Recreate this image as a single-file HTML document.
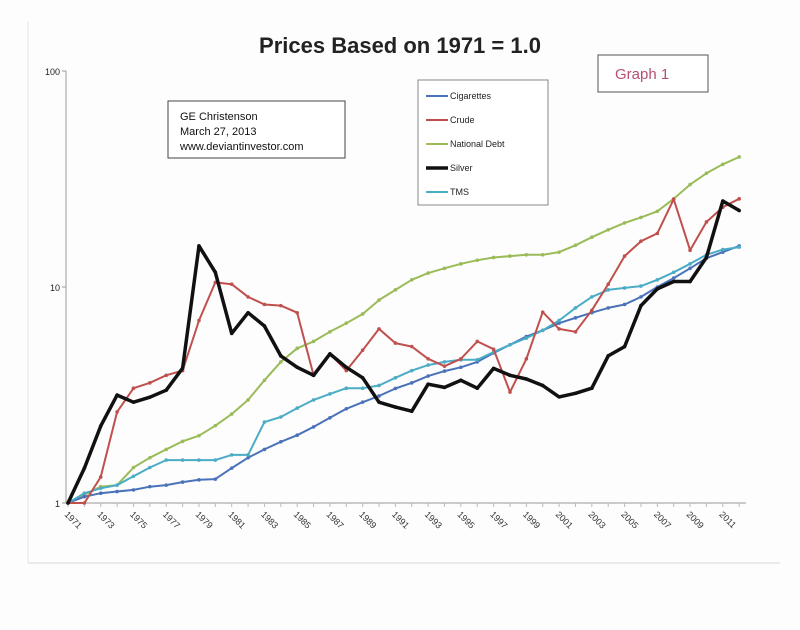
<!DOCTYPE html>
<html><head><meta charset="utf-8"><style>
body{margin:0;background:#fff;}
svg{display:block;font-family:"Liberation Sans",sans-serif;}
</style></head><body>
<svg id="chart" width="800" height="630">
<rect x="0" y="0" width="800" height="630" fill="#fdfdfd"/>
<line x1="28" y1="22" x2="28" y2="562" stroke="#e4e4e4"/>
<line x1="28" y1="563" x2="780" y2="563" stroke="#d8d8d8"/>
<text x="400" y="53" text-anchor="middle" font-size="22" font-weight="bold" fill="#222">Prices Based on 1971 = 1.0</text>
<g>
<rect x="168" y="101" width="177" height="57" fill="#fff" stroke="#444"/>
<text x="180" y="120" font-size="11" fill="#111">GE Christenson</text>
<text x="180" y="135" font-size="11" fill="#111">March 27, 2013</text>
<text x="180" y="150" font-size="11" fill="#111">www.deviantinvestor.com</text>
</g>
<g>
<rect x="598" y="55" width="110" height="37" fill="#fff" stroke="#555"/>
<text x="615" y="79" font-size="15" fill="#b85070">Graph 1</text>
</g>
<g id="axes"></g>
<g id="series"></g>
<g id="legend">
<rect x="418" y="80" width="130" height="125" fill="#fff" stroke="#888"/>
</g>
</svg>
<script>
const years = [];
for (let y = 1971; y <= 2012; y++) years.push(y);
const yTicks = [1, 10, 100];
const xTickLabels = [1971,1973,1975,1977,1979,1981,1983,1985,1987,1989,1991,1993,1995,1997,1999,2001,2003,2005,2007,2009,2011];
const seriesNames = ["Cigarettes","Crude","National Debt","Silver","TMS"];
const cigarettes = [1,1.07,1.11,1.13,1.15,1.19,1.21,1.25,1.28,1.29,1.45,1.62,1.77,1.92,2.06,2.25,2.48,2.73,2.93,3.13,3.39,3.6,3.87,4.08,4.25,4.5,4.95,5.4,5.9,6.3,6.8,7.2,7.6,8.0,8.3,9.0,10.0,11.0,12.2,13.6,14.5,15.5];
const crude = [1,1,1.32,2.64,3.4,3.6,3.9,4.1,7.0,10.5,10.3,9.0,8.3,8.2,7.6,3.9,4.9,4.1,5.1,6.4,5.5,5.3,4.65,4.3,4.65,5.6,5.15,3.26,4.65,7.65,6.4,6.2,7.8,10.3,13.9,16.3,17.7,25.5,14.8,20,23.4,25.6];
const nationalDebt = [1,1.09,1.19,1.21,1.46,1.62,1.77,1.93,2.05,2.28,2.58,3.0,3.7,4.5,5.2,5.6,6.2,6.8,7.5,8.7,9.7,10.8,11.6,12.2,12.8,13.3,13.7,13.9,14.1,14.1,14.5,15.6,17.0,18.4,19.8,21.0,22.4,25.6,29.8,33.6,37.0,40];
const silver = [1,1.45,2.27,3.16,2.93,3.09,3.33,4.21,15.5,11.7,6.1,7.6,6.6,4.8,4.25,3.9,4.9,4.25,3.8,2.93,2.78,2.66,3.55,3.43,3.7,3.4,4.2,3.9,3.75,3.5,3.1,3.22,3.4,4.8,5.3,8.2,9.8,10.6,10.6,13.7,25,22.6];
const tms = [1,1.11,1.17,1.21,1.33,1.46,1.58,1.58,1.58,1.58,1.67,1.67,2.37,2.5,2.75,3.0,3.2,3.4,3.4,3.5,3.8,4.1,4.35,4.5,4.6,4.6,5.0,5.4,5.8,6.3,7.0,8.0,9.0,9.7,9.9,10.1,10.8,11.7,12.8,14.1,14.9,15.3];

const NS = "http://www.w3.org/2000/svg";
const X0 = 68, DX = 16.37, Y1 = 503, DEC = 216;
function xs(yr){ return X0 + (yr - 1971) * DX; }
function ys(v){ return Y1 - Math.log10(v) * DEC; }
function mk(tag, attrs, parent){ const e = document.createElementNS(NS, tag); for (const k in attrs) e.setAttribute(k, attrs[k]); parent.appendChild(e); return e; }

const axes = document.getElementById('axes');
const yAxis = mk('line', {x1:66, y1:ys(100), x2:66, y2:Y1, stroke:'#999'}, axes);


const xAxis = mk('line', {x1:66, y1:Y1, x2:746, y2:Y1, stroke:'#999'}, axes);


yTicks.forEach(t => {
  const tx = mk('text', {x:60, y:ys(t)+4, 'text-anchor':'end', 'font-size':9, fill:'#222'}, axes);
  tx.textContent = t;
  
  
  mk('line', {x1:62, y1:ys(t), x2:66, y2:ys(t), stroke:'#999'}, axes);
});
years.forEach(yr => { mk('line', {x1:xs(yr), y1:Y1, x2:xs(yr), y2:Y1+4, stroke:'#bbb'}, axes); });
xTickLabels.forEach(yr => {
  const x = xs(yr) - 4, y = Y1 + 12;
  const tx = mk('text', {x:x, y:y, 'font-size':9, fill:'#333', transform:`rotate(45 ${x} ${y})`}, axes);
  tx.textContent = yr;
  
  
});

const seriesData = [cigarettes, crude, nationalDebt, silver, tms];
const colors = ['#4a72b8', '#c0504d', '#9bbb59', '#111111', '#4bacc6'];
const widths = [2, 2, 2, 3.5, 2];
const sg = document.getElementById('series');
const order = [2, 0, 4, 1, 3];
order.forEach(i => {
  const d = seriesData[i].map((v, j) => (j ? 'L' : 'M') + xs(years[j]).toFixed(1) + ',' + ys(v).toFixed(1)).join('');
  const p = mk('path', {d:d, fill:'none', stroke:colors[i], 'stroke-width':widths[i], 'stroke-linejoin':'round'}, sg);
  
  
  seriesData[i].forEach((v, j) => {
    const c = mk('circle', {cx:xs(years[j]), cy:ys(v), r:1.8, fill:colors[i]}, sg);
    
    
  });
});

const lg = document.getElementById('legend');
seriesNames.forEach((n, i) => {
  const y = 96 + i * 24;
  mk('line', {x1:426, y1:y, x2:448, y2:y, stroke:colors[i], 'stroke-width':widths[i]}, lg);
  const t = mk('text', {x:450, y:y+3, 'font-size':9, fill:'#222'}, lg);
  t.textContent = n;
  
  
});
</script>
</body></html>
